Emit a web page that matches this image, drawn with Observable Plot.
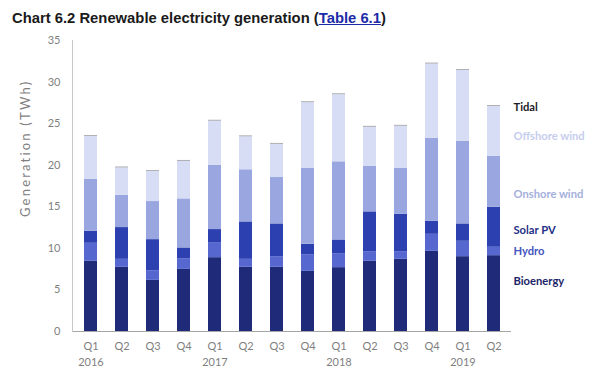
<!DOCTYPE html>
<html>
<head>
<meta charset="utf-8">
<script src="https://cdn.jsdelivr.net/npm/d3@7"></script>
<script src="https://cdn.jsdelivr.net/npm/@observablehq/plot@0.6"></script>
<style>
  body { margin: 0; background: #fff; }
  #title { font-family: "Liberation Sans", Arial, sans-serif; font-weight: bold; font-size: 14.8px; color: #1a1a1a; padding: 10px 0 0 12px; height: 20px; white-space: nowrap; }
  #title a { color: #1b2aa8; text-decoration: underline; }
  #chart svg { display: block; }
</style>
</head>
<body>
<div id="title">Chart 6.2 Renewable electricity generation (<a>Table 6.1</a>)</div>
<div id="chart"></div>
<script>
const quarters = ["Q1","Q2","Q3","Q4","Q1","Q2","Q3","Q4","Q1","Q2","Q3","Q4","Q1","Q2"];
const years    = ["2016","","","","2017","","","","2018","","","","2019",""];
const series = ["Bioenergy","Hydro","Solar PV","Onshore wind","Offshore wind","Tidal"];
const bioenergy   = [8.44, 7.72, 6.15, 7.47, 8.88, 7.72, 7.72, 7.23, 7.68, 8.44, 8.68, 9.64, 9.00, 9.12];
const hydro       = [2.17, 0.96, 1.16, 1.29, 1.81, 0.96, 1.28, 2.01, 1.68, 1.16, 0.92, 2.05, 1.85, 1.01];
const solarPV     = [1.44, 3.82, 3.74, 1.29, 1.57, 4.50, 3.94, 1.25, 1.65, 4.79, 4.50, 1.57, 2.09, 4.82];
const onshoreWind = [6.27, 3.89, 4.58, 5.90, 7.75, 6.27, 5.58, 9.16, 9.40, 5.46, 5.51, 9.97, 9.92, 6.11];
const offshoreWind= [5.15, 3.30, 3.62, 4.54, 5.31, 3.98, 4.02, 7.88, 8.08, 4.74, 5.10, 8.96, 8.56, 6.02];
const tidal       = [0.08, 0.08, 0.08, 0.08, 0.08, 0.08, 0.08, 0.08, 0.08, 0.08, 0.08, 0.08, 0.08, 0.08];
const yTicks = [0, 5, 10, 15, 20, 25, 30, 35];

const seriesValues = [bioenergy, hydro, solarPV, onshoreWind, offshoreWind, tidal];
const colors = ["#1f2a78", "#5667cf", "#2c40b0", "#99a6e0", "#d6ddf5", "#8c8c8c"];
const labelColors = ["#1b2468", "#4355bf", "#1f2f86", "#a5afdc", "#c6cdee", "#1c1c28"];
const labelY = [6.0, 9.65, 12.15, 16.5, 23.45, 27.0];

const rows = [];
quarters.forEach((q, i) => {
  series.forEach((s, k) => rows.push({i, series: s, value: seriesValues[k][i]}));
});
const labels = series.map((s, k) => ({series: s, y: labelY[k], color: labelColors[k]}));

const font = "Lato, 'Open Sans', sans-serif";
const chart = Plot.plot({
  width: 600,
  height: 341,
  marginTop: 10,
  marginBottom: 40,
  marginLeft: 72,
  marginRight: 89,
  style: {fontFamily: font, fontSize: "11px", color: "#7f7f7f", background: "#fff", overflow: "visible"},
  x: {domain: d3.range(quarters.length), paddingInner: 0.59, paddingOuter: 0.295, label: null},
  y: {domain: [0, 35], label: null},
  color: {domain: series, range: colors},
  marks: [
    Plot.barY(rows, {x: "i", y: "value", fill: "series", order: series}),
    Plot.axisX({tickSize: 0, tickPadding: 11, tickFormat: i => quarters[i], fill: "#7f7f7f", fontSize: 11}),
    Plot.axisX({tickSize: 0, tickPadding: 27, tickFormat: i => years[i], fill: "#7f7f7f", fontSize: 11}),
    Plot.axisY({ticks: yTicks, tickSize: 0, tickPadding: 12, fill: "#7f7f7f", fontSize: 11, label: null}),
    Plot.text(["Generation (TWh)"], {text: d => d, frameAnchor: "left", rotate: -90, dx: -47, dy: 31, fill: "#7f7f7f", fontSize: 13}),
    Plot.ruleY([0], {stroke: "#a6a6a6"}),
    Plot.frame({anchor: "left", stroke: "#c8c8c8"}),
    Plot.text(labels, {y: "y", text: "series", fill: "color", frameAnchor: "right", textAnchor: "start", dx: 2, fontWeight: "bold", fontSize: 11.2})
  ]
});
d3.select(chart).selectAll("text").filter(function() { return this.textContent === "Generation (TWh)"; }).style("letter-spacing", "2.2px");
document.getElementById("chart").appendChild(chart);
</script>
</body>
</html>
